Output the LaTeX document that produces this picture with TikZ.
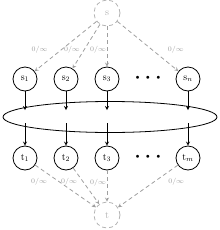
\documentclass[tikz,border=0pt]{standalone}
\usetikzlibrary{shapes.geometric,arrows}
\begin{document}
\begin{tikzpicture}[x=1bp,y=-1bp,>=stealth,line width=0.8pt,
  vert/.style={draw,circle,inner sep=0pt,minimum size=24bp,font=\normalsize},
  src/.style={vert,gray!60,dash pattern=on 4bp off 3bp,minimum size=26bp},
  flow/.style={->,gray!75,dash pattern=on 4bp off 3bp},
  flowlabel/.style={font=\scriptsize,text=gray!75,inner sep=0pt}]
\useasboundingbox (0,0) rectangle (220,230);
\node[src] (s) at (107,13) {s};
\node[vert] (s1) at (25,79) {s$_1$};
\node[vert] (s2) at (66,79) {s$_2$};
\node[vert] (s3) at (107,79) {s$_3$};
\node[vert] (sn) at (188,79) {s$_n$};
\node (dotsA) at (148,78) {\scriptsize$\bullet\;\;\bullet\;\;\bullet$};
\node[draw,ellipse,inner sep=0pt,minimum width=214bp,minimum height=31bp] (cut) at (110,117) {};
\node[vert] (t1) at (25,158) {t$_1$};
\node[vert] (t2) at (66,158) {t$_2$};
\node[vert] (t3) at (107,158) {t$_3$};
\node[vert] (tm) at (188,158) {t$_m$};
\node (dotsB) at (148,157) {\scriptsize$\bullet\;\;\bullet\;\;\bullet$};
\node[src] (t) at (107,215) {t};
% source edges
\draw[flow] (s) -- node[flowlabel,pos=0.56,left=14bp]{0/$\infty$} (s1);
\draw[flow] (s) -- node[flowlabel,pos=0.57,left=4bp]{0/$\infty$} (s2);
\draw[flow] (s) -- node[flowlabel,pos=0.57,left=0.5bp]{0/$\infty$} (s3);
\draw[flow] (s) -- node[flowlabel,pos=0.56,right=16bp]{0/$\infty$} (sn);
% into the cut
\coordinate (a1) at (25,110); \coordinate (b1) at (25,123);
\coordinate (a2) at (66,110); \coordinate (b2) at (66,123);
\coordinate (a3) at (107,110); \coordinate (b3) at (107,123);
\coordinate (an) at (188,110); \coordinate (bm) at (188,123);
\draw[->] (s1) -- (a1); \draw[->] (b1) -- (t1);
\draw[->] (s2) -- (a2); \draw[->] (b2) -- (t2);
\draw[->] (s3) -- (a3); \draw[->] (b3) -- (t3);
\draw[->] (sn) -- (an); \draw[->] (bm) -- (tm);
% sink edges
\draw[flow] (t1) -- node[flowlabel,pos=0.4,left=12bp]{0/$\infty$} (t);
\draw[flow] (t2) -- node[flowlabel,pos=0.39,left=6bp]{0/$\infty$} (t);
\draw[flow] (t3) -- node[flowlabel,pos=0.38,left=0.5bp]{0/$\infty$} (t);
\draw[flow] (tm) -- node[flowlabel,pos=0.4,right=14bp]{0/$\infty$} (t);
\end{tikzpicture}
\end{document}
